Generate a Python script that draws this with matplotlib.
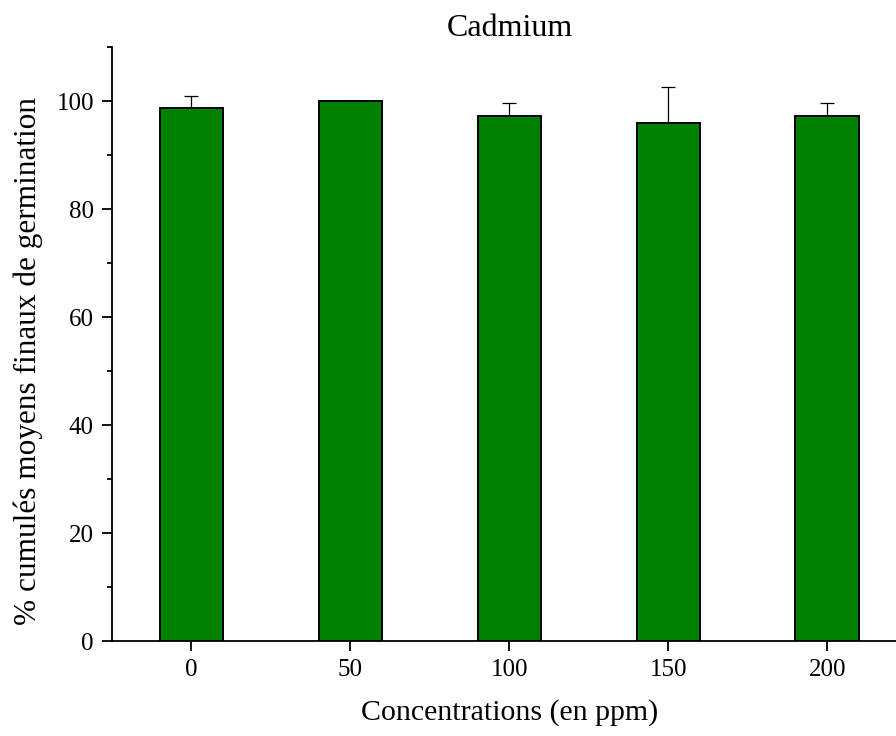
import matplotlib.pyplot as plt
from matplotlib.ticker import MultipleLocator

plt.rcParams['font.family'] = ['Liberation Serif', 'DejaVu Serif']

## data
concentrations = [0, 50, 100, 150, 200]
germination = [98.67, 100.0, 97.33, 96.0, 97.33]
err_up = [2.2, 0.0, 2.3, 6.7, 2.3]
err_down = [0, 0, 0, 0, 0]

fig = plt.figure(figsize=(8.96, 7.36), dpi=100)
ax = fig.add_axes([0.125, 0.129, 0.887, 0.807])

ax.bar(concentrations, germination, width=20, color='#008000',
       edgecolor='black', linewidth=1.4, zorder=2)
ax.errorbar(concentrations, germination, yerr=[err_down, err_up], fmt='none',
            ecolor='black', elinewidth=0.9, capsize=5, capthick=0.9, zorder=1)

ax.set_xlim(-25, 225)
ax.set_ylim(0, 110)
ax.set_xticks(concentrations)
ax.yaxis.set_major_locator(MultipleLocator(20))
ax.yaxis.set_minor_locator(MultipleLocator(10))

ax.spines['top'].set_visible(False)
ax.spines['right'].set_visible(False)
ax.spines['left'].set_linewidth(1.3)
ax.spines['bottom'].set_linewidth(1.3)
ax.tick_params(axis='both', which='major', direction='out', length=7, width=1.3,
               labelsize=18, pad=6)
ax.tick_params(axis='y', which='minor', direction='out', length=3.5, width=1.3)

ax.set_title('Cadmium', fontsize=23, pad=8)
ax.set_xlabel('Concentrations (en ppm)', fontsize=21.5, labelpad=13)
ax.set_ylabel('% cumulés moyens finaux de germination', fontsize=22.5, labelpad=10)
ax.yaxis.label.set_y(0.472)

fig.savefig('out.png', dpi=100)
